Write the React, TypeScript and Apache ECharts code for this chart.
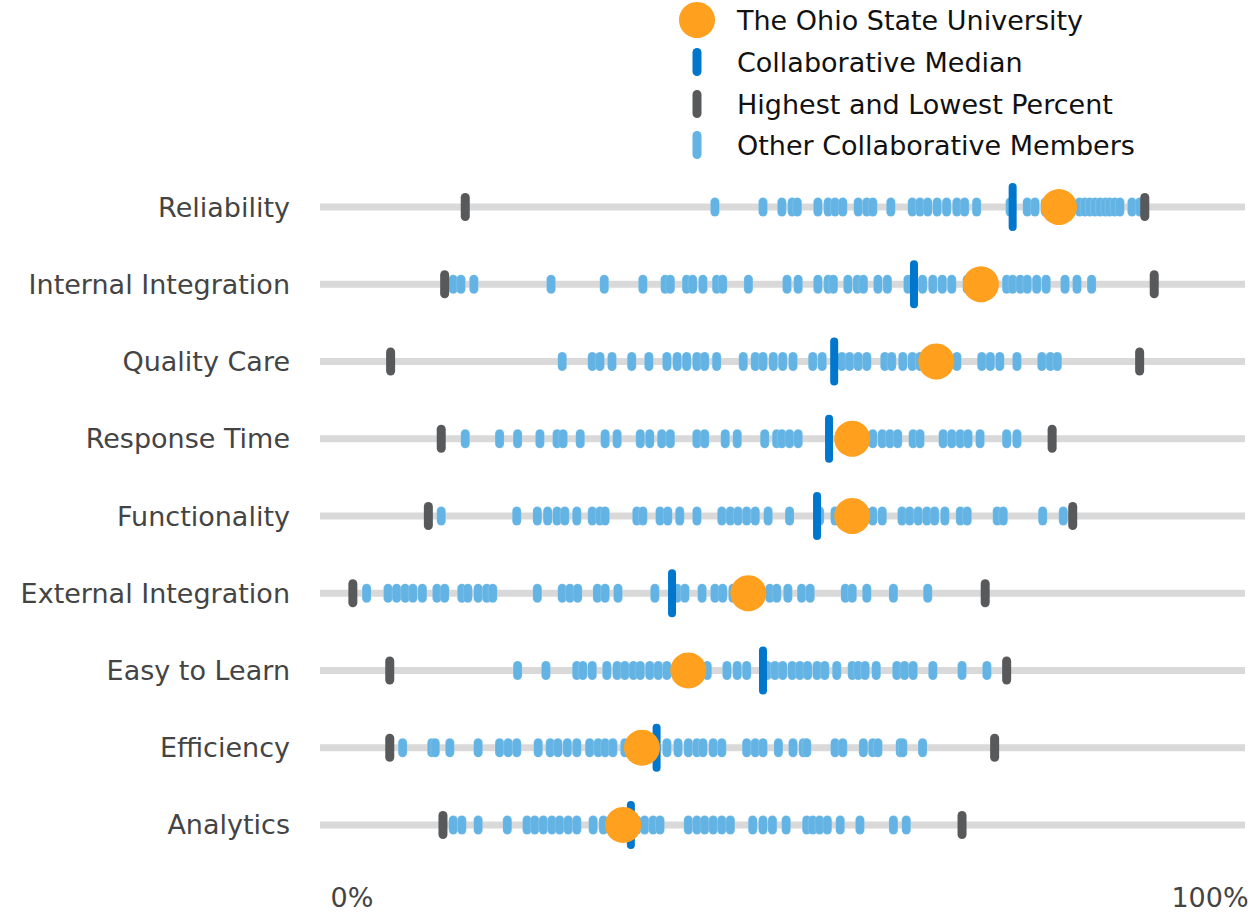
import { useEffect, useRef } from 'react';
import * as echarts from 'echarts';

const categories = [
  'Reliability',
  'Internal Integration',
  'Quality Care',
  'Response Time',
  'Functionality',
  'External Integration',
  'Easy to Learn',
  'Efficiency',
  'Analytics',
];

const osuValues = [82.4, 73.3, 68.1, 58.3, 58.3, 46.2, 39.2, 33.8, 31.6];
const medianValues = [77.0, 65.5, 56.2, 55.6, 54.2, 37.3, 47.9, 35.5, 32.5];
const lowestValues = [13.2, 10.8, 4.5, 10.4, 8.9, 0.1, 4.4, 4.4, 10.6];
const highestValues = [92.4, 93.5, 91.8, 81.6, 84.0, 73.8, 76.3, 74.9, 71.1];

const reliabilityMembers = [42.3, 47.9, 50.1, 51.3, 51.9, 54.3, 55.5, 56.3, 57.2, 59.0, 60.0, 60.7, 62.8, 65.3, 66.2, 67.1, 68.2, 69.3, 70.5, 71.4, 72.8, 76.7, 78.7, 79.6, 80.8, 83.9, 84.8, 85.4, 86.0, 86.6, 87.2, 87.8, 88.3, 88.9, 89.5, 90.9, 91.8];
const internalMembers = [11.8, 12.7, 14.2, 23.2, 29.4, 33.9, 36.5, 37.1, 39.0, 39.7, 40.9, 42.5, 43.2, 46.2, 50.7, 52.0, 54.3, 55.5, 56.1, 57.8, 58.9, 59.6, 61.3, 62.4, 64.8, 66.5, 67.7, 68.8, 69.9, 71.7, 76.3, 77.0, 77.9, 78.7, 79.8, 80.9, 83.1, 84.5, 86.2];
const qualityMembers = [24.5, 28.0, 28.9, 30.3, 32.6, 34.6, 36.7, 37.9, 39.0, 40.2, 41.1, 42.5, 45.6, 47.0, 47.9, 49.1, 50.2, 51.4, 53.7, 54.8, 57.1, 58.0, 59.0, 60.0, 62.1, 62.9, 64.2, 65.3, 66.2, 69.3, 70.5, 73.4, 74.4, 75.5, 77.5, 80.4, 81.4, 82.2];
const responseMembers = [13.2, 17.2, 19.3, 21.9, 23.9, 24.6, 26.6, 29.5, 30.9, 33.6, 34.7, 36.1, 37.1, 40.2, 41.1, 43.5, 44.9, 48.1, 49.5, 50.1, 51.0, 52.0, 57.5, 59.2, 60.7, 61.8, 62.7, 63.6, 65.4, 66.2, 68.9, 69.9, 70.9, 71.8, 73.2, 76.3, 77.5];
const functionalityMembers = [10.4, 19.2, 21.6, 22.8, 23.9, 24.8, 26.2, 28.0, 28.9, 29.5, 33.2, 33.9, 35.9, 36.8, 38.2, 40.2, 43.1, 44.1, 45.0, 46.0, 47.0, 48.5, 51.0, 54.5, 56.3, 59.8, 60.7, 61.8, 64.1, 65.0, 66.0, 67.0, 67.9, 69.1, 70.9, 71.7, 75.2, 75.9, 80.5, 82.9];
const externalMembers = [1.7, 4.2, 5.2, 6.2, 7.1, 8.2, 9.9, 10.8, 12.8, 13.5, 14.7, 15.7, 16.4, 21.6, 24.5, 25.4, 26.3, 28.6, 29.5, 31.0, 35.3, 37.9, 38.8, 40.8, 42.3, 43.2, 44.4, 45.2, 47.6, 48.7, 49.5, 50.8, 52.4, 53.4, 57.5, 58.3, 60.0, 63.1, 67.1];
const easyMembers = [19.3, 22.6, 26.2, 26.9, 28.0, 29.7, 30.9, 31.8, 32.8, 33.6, 34.7, 35.7, 36.7, 38.2, 40.0, 41.4, 43.7, 44.9, 46.0, 48.4, 49.3, 50.2, 51.3, 52.2, 53.1, 54.2, 55.1, 56.5, 58.3, 59.0, 59.8, 61.1, 63.5, 64.4, 65.4, 67.7, 71.1, 74.0];
const efficiencyMembers = [5.9, 9.3, 9.7, 11.4, 14.7, 17.2, 18.2, 19.2, 21.7, 23.1, 24.0, 25.1, 26.2, 27.7, 28.7, 29.5, 30.4, 31.8, 33.0, 36.7, 38.0, 39.2, 40.2, 40.9, 42.1, 43.1, 46.0, 47.0, 47.9, 49.7, 51.4, 52.6, 53.0, 56.3, 57.2, 59.6, 60.7, 61.3, 63.9, 64.2, 66.5];
const analyticsMembers = [11.8, 12.8, 14.7, 18.1, 20.4, 21.3, 22.3, 23.3, 24.2, 25.2, 26.2, 28.1, 29.3, 30.7, 33.2, 34.1, 35.1, 35.9, 39.2, 40.2, 41.1, 42.1, 43.1, 44.1, 46.7, 47.9, 49.0, 50.6, 53.0, 53.7, 54.5, 55.4, 56.9, 59.2, 63.1, 64.6];

const memberValues = [
  reliabilityMembers,
  internalMembers,
  qualityMembers,
  responseMembers,
  functionalityMembers,
  externalMembers,
  easyMembers,
  efficiencyMembers,
  analyticsMembers,
];

const xTickValues = [0, 100];

const legendNames = [
  'The Ohio State University',
  'Collaborative Median',
  'Highest and Lowest Percent',
  'Other Collaborative Members',
];

const COLORS = {
  osu: '#FFA01F',
  median: '#0077CC',
  extreme: '#58595B',
  member: '#63B4E4',
  track: '#D9D9D9',
};

const FONT = "'DejaVu Sans', Verdana, sans-serif";

function pill(w: number, h: number) {
  const r = w / 2;
  return `path://M0,${r}A${r},${r} 0 0 1 ${w},${r}L${w},${h - r}A${r},${r} 0 0 1 0,${h - r}Z`;
}

export default function App() {
  const ref = useRef<HTMLDivElement>(null);

  useEffect(() => {
    document.body.style.margin = '0';
    const chart = echarts.init(ref.current!, null, { renderer: 'svg' });

    const trackData = categories.map((_, i) => [0, i]);
    const memberData = memberValues.flatMap((arr, i) => arr.map((v) => [v, i]));
    const extremeData = categories.flatMap((_, i) => [
      [lowestValues[i], i],
      [highestValues[i], i],
    ]);
    const medianData = medianValues.map((v, i) => [v, i]);
    const osuData = osuValues.map((v, i) => [v, i]);

    const legendY = [20, 62, 104, 145];
    const legendIcons: any[] = [
      { type: 'circle', shape: { cx: 697, cy: legendY[0], r: 18 }, style: { fill: COLORS.osu } },
      { type: 'rect', shape: { x: 692.5, y: legendY[1] - 14, width: 9, height: 28, r: 4.5 }, style: { fill: COLORS.median } },
      { type: 'rect', shape: { x: 692.5, y: legendY[2] - 14, width: 9, height: 28, r: 4.5 }, style: { fill: COLORS.extreme } },
      { type: 'rect', shape: { x: 692.5, y: legendY[3] - 14, width: 9, height: 28, r: 4.5 }, style: { fill: COLORS.member } },
    ];
    const legendTexts = legendNames.map((name, i) => ({
      type: 'text',
      x: 737,
      y: legendY[i],
      style: {
        text: name,
        fill: '#111111',
        font: `27px ${FONT}`,
        verticalAlign: 'middle',
        align: 'left',
      },
    }));

    chart.setOption({
      animation: false,
      tooltip: { show: false },
      grid: { left: 320, right: 12, top: 168.4, height: 695.2, containLabel: false },
      xAxis: {
        type: 'value',
        min: -3.73,
        max: 104.08,
        axisLine: { show: false },
        axisTick: { show: false },
        splitLine: { show: false },
        axisLabel: {
          customValues: xTickValues,
          formatter: (v: number) => `${v}%`,
          fontSize: 27,
          fontFamily: FONT,
          color: '#444444',
          margin: 20,
        },
      },
      yAxis: {
        type: 'category',
        data: categories,
        inverse: true,
        axisLine: { show: false },
        axisTick: { show: false },
        splitLine: { show: false },
        axisLabel: {
          fontSize: 27,
          fontFamily: FONT,
          color: '#444444',
          margin: 30,
        },
      },
      graphic: [...legendIcons, ...legendTexts],
      series: [
        {
          type: 'custom',
          name: 'track',
          z: 1,
          silent: true,
          encode: { x: 0, y: 1 },
          data: trackData,
          renderItem: (params: any, api: any) => {
            const y = api.coord([0, api.value(1)])[1];
            const cs = params.coordSys;
            return {
              type: 'line',
              shape: { x1: cs.x, y1: y, x2: cs.x + cs.width, y2: y },
              style: { stroke: COLORS.track, lineWidth: 7 },
            };
          },
        },
        {
          type: 'scatter',
          name: legendNames[3],
          z: 2,
          symbol: pill(9, 19),
          symbolSize: [9, 19],
          itemStyle: { color: COLORS.member, opacity: 1, borderColor: 'rgba(255,255,255,0.35)', borderWidth: 0.4 },
          data: memberData,
        },
        {
          type: 'scatter',
          name: legendNames[2],
          z: 3,
          symbol: pill(9, 28),
          symbolSize: [9, 28],
          itemStyle: { color: COLORS.extreme, opacity: 1 },
          data: extremeData,
        },
        {
          type: 'scatter',
          name: legendNames[1],
          z: 4,
          symbol: pill(8, 48),
          symbolSize: [8, 48],
          itemStyle: { color: COLORS.median, opacity: 1 },
          data: medianData,
        },
        {
          type: 'scatter',
          name: legendNames[0],
          z: 5,
          symbol: 'circle',
          symbolSize: 36,
          itemStyle: { color: COLORS.osu, opacity: 1 },
          data: osuData,
        },
      ],
    });

    return () => chart.dispose();
  }, []);

  return <div ref={ref} style={{ width: 1257, height: 912, background: '#ffffff' }} />;
}
